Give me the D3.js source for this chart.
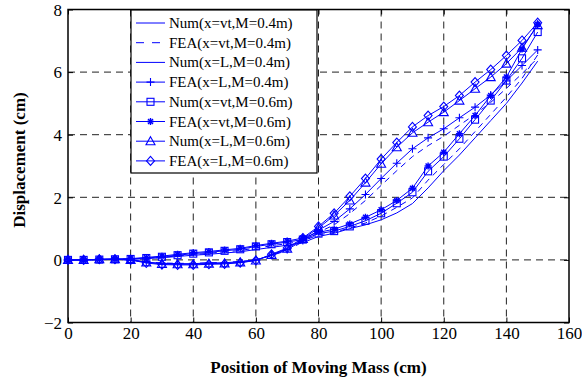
<!DOCTYPE html>
<html>
<head>
<meta charset="utf-8">
<script src="https://cdn.jsdelivr.net/npm/d3@7/dist/d3.min.js"></script>
<style>
  body { margin: 0; background: #fff; }
  svg text { font-family: "Liberation Serif", "Times New Roman", serif; fill: #000; }
</style>
</head>
<body>
<svg width="582" height="382"></svg>
<script>
// position of the moving mass (cm)
var positions = [0, 5, 10, 15, 20, 25, 30, 35, 40, 45, 50, 55, 60, 65, 70, 75,
  80, 85, 90, 95, 100, 105, 110, 115, 120, 125, 130, 135, 140, 145, 150]

// displacement (cm), one list per curve
var numVt04 = [0, 0, 0.01, 0.02, 0.02, 0.04, 0.07, 0.11, 0.15, 0.18, 0.22, 0.26, 0.33, 0.4, 0.47, 0.55,
  0.75, 0.85, 1.0, 1.12, 1.28, 1.5, 1.8, 2.3, 2.85, 3.35, 3.9, 4.45, 5.0, 5.65, 6.35]
var feaVt04 = [0, 0, 0.01, 0.02, 0.03, 0.05, 0.08, 0.13, 0.17, 0.21, 0.26, 0.3, 0.38, 0.45, 0.52, 0.6,
  0.8, 0.88, 1.02, 1.18, 1.4, 1.68, 1.98, 2.55, 3.05, 3.55, 4.1, 4.65, 5.2, 5.8, 6.55]
var numL04 = [0, 0, 0.01, 0.01, 0, -0.06, -0.1, -0.11, -0.11, -0.09, -0.08, -0.05, 0, 0.14, 0.3, 0.58,
  0.88, 1.12, 1.48, 1.9, 2.38, 2.85, 3.3, 3.65, 3.95, 4.3, 4.65, 5.03, 5.48, 5.95, 6.45]
var feaL04 = [0, 0, 0.01, 0.02, 0, -0.07, -0.11, -0.12, -0.12, -0.1, -0.09, -0.06, 0, 0.15, 0.33, 0.62,
  0.95, 1.23, 1.63, 2.09, 2.6, 3.09, 3.55, 3.9, 4.19, 4.54, 4.88, 5.27, 5.72, 6.21, 6.71]
var numVt06 = [0, 0, 0.01, 0.02, 0.03, 0.06, 0.1, 0.15, 0.2, 0.24, 0.29, 0.34, 0.43, 0.5, 0.57, 0.65,
  0.84, 0.92, 1.07, 1.25, 1.49, 1.81, 2.16, 2.83, 3.3, 3.87, 4.48, 5.09, 5.73, 6.44, 7.28]
var feaVt06 = [0, 0, 0.02, 0.03, 0.04, 0.08, 0.12, 0.18, 0.23, 0.27, 0.32, 0.37, 0.46, 0.53, 0.6, 0.7,
  0.88, 0.98, 1.15, 1.36, 1.6, 1.9, 2.29, 3.0, 3.44, 4.03, 4.61, 5.25, 5.84, 6.74, 7.52]
var numL06 = [0, 0, 0.02, 0.02, 0, -0.08, -0.13, -0.14, -0.14, -0.12, -0.11, -0.08, -0.02, 0.16, 0.36, 0.67,
  1.02, 1.42, 1.9, 2.47, 3.07, 3.6, 4.06, 4.4, 4.72, 5.09, 5.47, 5.84, 6.27, 6.78, 7.5]
var feaL06 = [0, 0, 0.02, 0.02, 0, -0.1, -0.15, -0.16, -0.16, -0.14, -0.13, -0.09, -0.02, 0.18, 0.38, 0.7,
  1.07, 1.49, 2.03, 2.6, 3.22, 3.75, 4.25, 4.61, 4.9, 5.25, 5.68, 6.08, 6.53, 7.01, 7.58]

var labels = ['Num(x=vt,M=0.4m)', 'FEA(x=vt,M=0.4m)', 'Num(x=L,M=0.4m)', 'FEA(x=L,M=0.4m)',
  'Num(x=vt,M=0.6m)', 'FEA(x=vt,M=0.6m)', 'Num(x=L,M=0.6m)', 'FEA(x=L,M=0.6m)']
var xTicks = [0, 20, 40, 60, 80, 100, 120, 140, 160]
var yTicks = [-2, 0, 2, 4, 6, 8]

var series = [
  {values: numVt04, marker: null, dash: null, legendDash: null},
  {values: feaVt04, marker: null, dash: '6,5', legendDash: '8,8'},
  {values: numL04, marker: null, dash: '6,5', legendDash: null},
  {values: feaL04, marker: 'plus', dash: null, legendDash: null},
  {values: numVt06, marker: 'square', dash: null, legendDash: null},
  {values: feaVt06, marker: 'star', dash: null, legendDash: null},
  {values: numL06, marker: 'triangle', dash: null, legendDash: null},
  {values: feaL06, marker: 'diamond', dash: null, legendDash: null}
]

var blue = '#0000ff'
var plotLeft = 68, plotRight = 569, plotTop = 9.5, plotBottom = 322.5

var svg = d3.select('svg')

var x = d3.scaleLinear().domain([0, 160]).range([plotLeft, plotRight])
var y = d3.scaleLinear().domain([-2, 8]).range([plotBottom, plotTop])

// grid
svg.append('g')
  .selectAll('line')
  .data(xTicks.slice(1, -1))
  .enter().append('line')
  .attr('x1', function(d) { return x(d) })
  .attr('x2', function(d) { return x(d) })
  .attr('y1', plotTop)
  .attr('y2', plotBottom)
  .attr('stroke', '#222')
  .attr('stroke-dasharray', '7,5')

svg.append('g')
  .selectAll('line')
  .data(yTicks.slice(1, -1))
  .enter().append('line')
  .attr('x1', plotLeft)
  .attr('x2', plotRight)
  .attr('y1', function(d) { return y(d) })
  .attr('y2', function(d) { return y(d) })
  .attr('stroke', '#222')
  .attr('stroke-dasharray', '7,5')

// axes, ticks pointing inside
var xAxis = svg.append('g')
  .attr('transform', 'translate(0,' + plotBottom + ')')
  .call(d3.axisBottom(x).tickValues(xTicks).tickSize(-5).tickPadding(3).tickFormat(d3.format('d')))
var yAxis = svg.append('g')
  .attr('transform', 'translate(' + plotLeft + ',0)')
  .call(d3.axisLeft(y).tickValues(yTicks).tickSize(-5).tickPadding(6).tickFormat(d3.format('d')))
svg.append('g')
  .attr('transform', 'translate(0,' + plotTop + ')')
  .call(d3.axisTop(x).tickValues(xTicks).tickSize(-5).tickFormat(''))
svg.append('g')
  .attr('transform', 'translate(' + plotRight + ',0)')
  .call(d3.axisRight(y).tickValues(yTicks).tickSize(-5).tickFormat(''))

svg.selectAll('.domain').remove()
svg.selectAll('.tick line').attr('stroke', '#000')
svg.selectAll('.tick text')
  .attr('font-family', '"Liberation Serif", serif')
  .attr('font-size', 17)
  .attr('fill', '#000')
yAxis.selectAll('.tick text').attr('dy', '0.34em')
xAxis.selectAll('.tick text').attr('dy', '0.8em')

svg.append('rect')
  .attr('x', plotLeft).attr('y', plotTop)
  .attr('width', plotRight - plotLeft).attr('height', plotBottom - plotTop)
  .attr('fill', 'none')
  .attr('stroke', '#000')
  .attr('stroke-width', 1.5)

// markers
function drawMarker(g, type, cx, cy) {
  if (type === 'square') {
    g.append('rect').attr('x', cx - 3.5).attr('y', cy - 3.5).attr('width', 7).attr('height', 7)
      .attr('fill', 'none').attr('stroke', blue).attr('stroke-width', 1.1)
  } else if (type === 'triangle') {
    g.append('path').attr('d', 'M' + cx + ',' + (cy - 4.5) + 'L' + (cx + 4.5) + ',' + (cy + 3.5) +
      'L' + (cx - 4.5) + ',' + (cy + 3.5) + 'Z')
      .attr('fill', 'none').attr('stroke', blue).attr('stroke-width', 1.1)
  } else if (type === 'diamond') {
    g.append('path').attr('d', 'M' + cx + ',' + (cy - 4.5) + 'L' + (cx + 4) + ',' + cy +
      'L' + cx + ',' + (cy + 4.5) + 'L' + (cx - 4) + ',' + cy + 'Z')
      .attr('fill', 'none').attr('stroke', blue).attr('stroke-width', 1.1)
  } else if (type === 'plus') {
    g.append('path').attr('d', 'M' + (cx - 4) + ',' + cy + 'H' + (cx + 4) + 'M' + cx + ',' + (cy - 4) + 'V' + (cy + 4))
      .attr('stroke', blue).attr('stroke-width', 1.1)
  } else if (type === 'star') {
    var r = 3.5, k = 2.5
    g.append('path').attr('d', 'M' + (cx - r) + ',' + cy + 'H' + (cx + r) + 'M' + cx + ',' + (cy - r) + 'V' + (cy + r) +
      'M' + (cx - k) + ',' + (cy - k) + 'L' + (cx + k) + ',' + (cy + k) +
      'M' + (cx - k) + ',' + (cy + k) + 'L' + (cx + k) + ',' + (cy - k))
      .attr('stroke', blue).attr('stroke-width', 1.4)
  }
}

// curves
var line = d3.line()
  .x(function(d) { return x(d[0]) })
  .y(function(d) { return y(d[1]) })

var plot = svg.append('g')
series.forEach(function(s) {
  var pts = positions.map(function(p, i) { return [p, s.values[i]] })
  plot.append('path')
    .attr('d', line(pts))
    .attr('fill', 'none')
    .attr('stroke', blue)
    .attr('stroke-width', 1)
    .attr('stroke-dasharray', s.dash)
  if (s.marker) {
    var mg = plot.append('g')
    pts.forEach(function(p) { drawMarker(mg, s.marker, x(p[0]), y(p[1])) })
  }
})

// legend
var legend = svg.append('g')
legend.append('rect')
  .attr('x', 131).attr('y', 10)
  .attr('width', 186).attr('height', 163)
  .attr('fill', '#fff')
  .attr('stroke', '#000')
  .attr('stroke-width', 1.2)
series.forEach(function(s, i) {
  var ly = 23 + i * 19.7
  legend.append('line')
    .attr('x1', 136).attr('x2', 165)
    .attr('y1', ly).attr('y2', ly)
    .attr('stroke', blue)
    .attr('stroke-dasharray', s.legendDash)
  if (s.marker) drawMarker(legend, s.marker, 150.5, ly)
  legend.append('text')
    .attr('x', 169).attr('y', ly + 5)
    .attr('font-size', 15)
    .text(labels[i])
})

// axis titles
svg.append('text')
  .attr('x', (plotLeft + plotRight) / 2).attr('y', 373)
  .attr('text-anchor', 'middle')
  .attr('font-size', 17).attr('font-weight', 'bold')
  .text('Position of Moving Mass (cm)')
svg.append('text')
  .attr('transform', 'translate(25,160) rotate(-90)')
  .attr('text-anchor', 'middle')
  .attr('font-size', 17).attr('font-weight', 'bold')
  .text('Displacement (cm)')
</script>
</body>
</html>
